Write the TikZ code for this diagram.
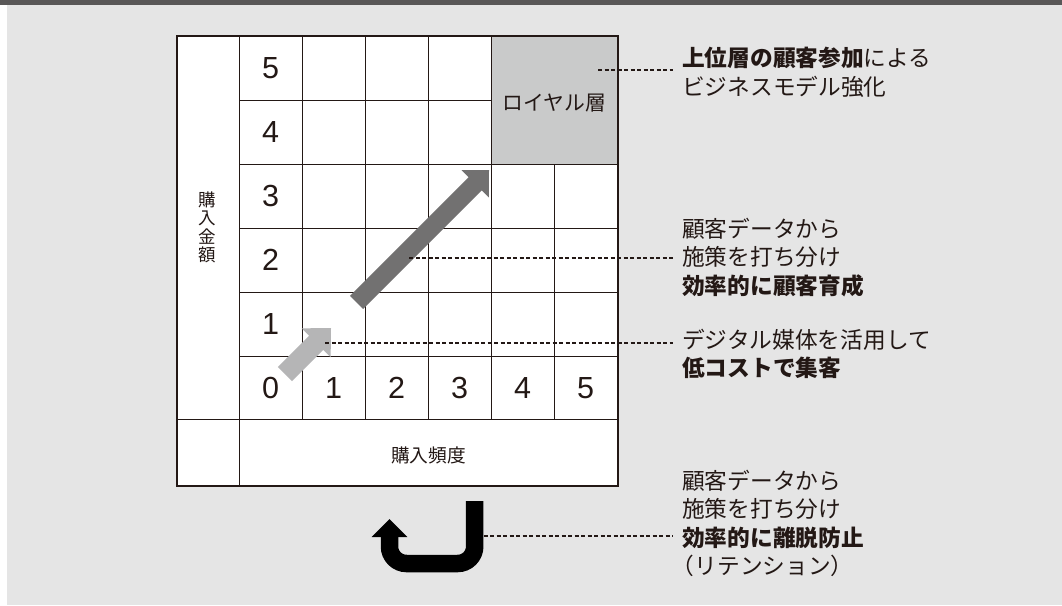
\documentclass[tikz,border=0pt]{standalone}
\usepackage{fontspec}
\setmainfont{Liberation Sans}
\newfontfamily\jp{Noto Sans CJK JP}
\usetikzlibrary{calc}
\definecolor{bg}{HTML}{E5E5E5}
\definecolor{bar}{HTML}{595757}
\definecolor{ink}{HTML}{231815}
\definecolor{royal}{HTML}{C9CACA}
\definecolor{lightarr}{HTML}{B5B5B6}
\definecolor{darkarr}{HTML}{727171}
% #1 colour, #2 tail, #3 tip, #4 half shaft, #5 half head, #6 head length
\newcommand\fatarrow[6]{%
  \path ($(#3)!#6!(#2)$) coordinate (fabase);
  \fill[#1] ($(#2)!#4!90:(#3)$) -- ($(fabase)!#4!90:(#3)$) -- ($(fabase)!#5!90:(#3)$) -- (#3)
    -- ($(fabase)!#5!-90:(#3)$) -- ($(fabase)!#4!-90:(#3)$) -- ($(#2)!#4!-90:(#3)$) -- cycle;}
\begin{document}
\begin{tikzpicture}[x=1pt,y=-1pt,
  gridline/.style={draw=ink,line width=1pt},
  frame/.style={draw=ink,line width=1.8pt},
  digit/.style={font=\fontsize{30.5}{30}\selectfont,text=ink,inner sep=0pt},
  jplabel/.style={font=\jp\fontsize{22.7}{28.5}\selectfont,text=ink,align=left,anchor=west,inner xsep=9pt,inner ysep=0pt},
  leader/.style={draw=ink,line width=1.1pt,dash pattern=on 4pt off 2.5pt},
  axislabel/.style={text=ink,inner sep=0pt}]
\useasboundingbox (0,0) rectangle (1062,605);
\fill[white] (0,0) rectangle (1062,605);
\fill[bg] (7,5) rectangle (1062,605);
\fill[bar] (0,0) rectangle (1062,5);
% grid
\fill[white] (177,36) rectangle (618,486);
\fill[royal] (491,36) rectangle (618,164);
\draw[gridline] (239,36) -- (239,486);
\foreach \x in {302,365,428,491} \draw[gridline] (\x,36) -- (\x,419);
\draw[gridline] (554,164) -- (554,419);
\draw[gridline] (239,100) -- (491,100);
\foreach \y in {164,228,292,356} \draw[gridline] (239,\y) -- (618,\y);
\draw[gridline] (177,419) -- (618,419);
\draw[frame] (177,36) rectangle (618,486);
% numbers
\node[digit] (y5) at (270.5,68) {5};
\node[digit] (y4) at (270.5,132) {4};
\node[digit] (y3) at (270.5,196) {3};
\node[digit] (y2) at (270.5,260) {2};
\node[digit] (y1) at (270.5,324) {1};
\node[digit] (y0) at (270.5,388) {0};
\node[digit] (x1) at (333.5,388) {1};
\node[digit] (x2) at (396.5,388) {2};
\node[digit] (x3) at (459.5,388) {3};
\node[digit] (x4) at (522.5,388) {4};
\node[digit] (x5) at (585.5,388) {5};
\node[axislabel,font=\jp\fontsize{20.8}{22}\selectfont] (roy) at (554.5,103) {ロイヤル層};
\node[axislabel,font=\jp\fontsize{17.5}{18.5}\selectfont,align=center] (yl) at (207,227.5) {購\\入\\金\\額};
\node[axislabel,font=\jp\fontsize{18.7}{20}\selectfont] (xl) at (428.5,455) {購入頻度};
% growth arrows
\coordinate (lt) at (285,374);
\coordinate (lp) at (331,328);
\fatarrow{lightarr}{lt}{lp}{10pt}{20.5pt}{21pt}
\coordinate (dt) at (356.5,302.5);
\coordinate (dp) at (489,170);
\fatarrow{darkarr}{dt}{dp}{9.3pt}{19.3pt}{19.5pt}
% retention U-turn arrow
\coordinate (ut) at (474.7,501);
\coordinate (ue) at (389.5,536.5);
\draw[black,line width=17.5pt,rounded corners=17pt] (ut) -- (474.7,563.5) -- (389.5,563.5) -- (ue);
\fill[black] (371.7,537) -- (389.5,519) -- (407.3,537) -- cycle;
% labels
\node[jplabel] (top) at (673,72.5) {\textbf{上位層の顧客参加}による\\ビジネスモデル強化};
\node[jplabel] (mid) at (673,257.5) {顧客データから\\施策を打ち分け\\\textbf{効率的に顧客育成}};
\node[jplabel] (low) at (673,354) {デジタル媒体を活用して\\\textbf{低コストで集客}};
\node[jplabel] (ret) at (673,523.5) {顧客データから\\施策を打ち分け\\\textbf{効率的に離脱防止}\\\hspace*{-0.45em}（リテンション）};
% leaders
\coordinate (d1) at (598,70);
\coordinate (d2) at (409,258);
\coordinate (d3) at (325,343);
\coordinate (d4) at (483.5,536);
\draw[leader] (d1) -- (top.west |- d1);
\draw[leader] (d2) -- (mid.west |- d2);
\draw[leader] (d3) -- (low.west |- d3);
\draw[leader] (d4) -- (ret.west |- d4);
\end{tikzpicture}
\end{document}
